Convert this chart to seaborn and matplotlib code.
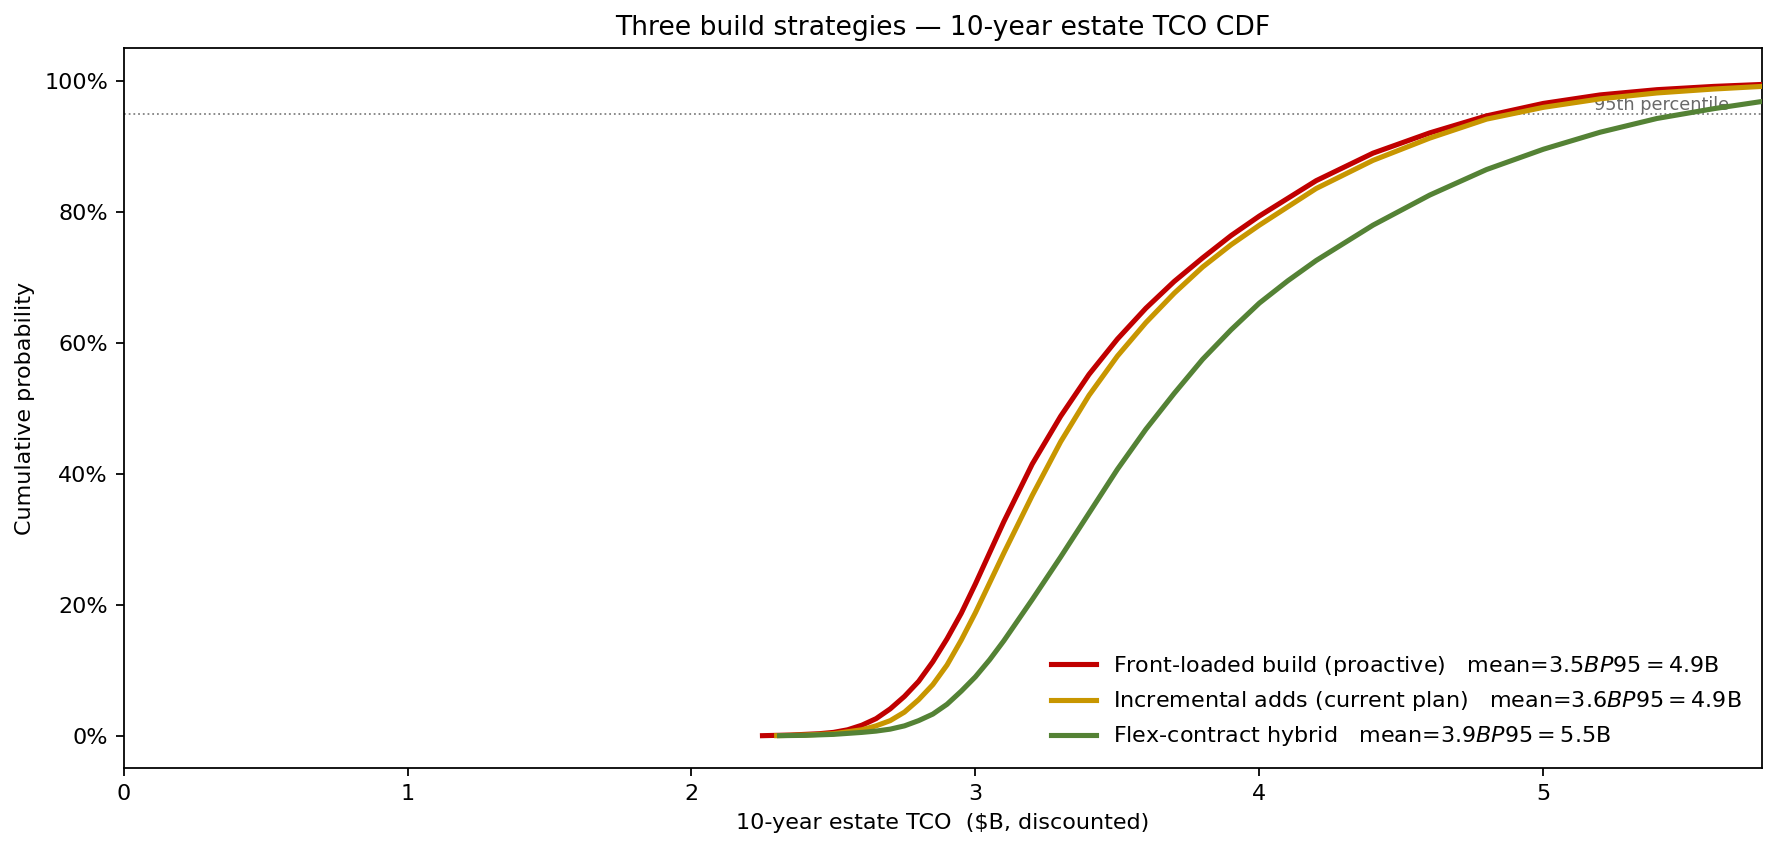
import seaborn as sns
import matplotlib
matplotlib.use("Agg")
import matplotlib.pyplot as plt
from matplotlib.ticker import PercentFormatter
import numpy as np

# CDF points (TCO in $B, cumulative share in %)
front_x = [2.25, 2.35, 2.45, 2.5, 2.55, 2.6, 2.65, 2.7, 2.75, 2.8, 2.85, 2.9, 2.95, 3.0,
           3.1, 3.2, 3.3, 3.4, 3.5, 3.6, 3.7, 3.8, 3.9, 4.0, 4.2, 4.4, 4.6, 4.8, 5.0,
           5.2, 5.4, 5.6, 5.77]
front_p = [0, 0.1, 0.3, 0.5, 0.9, 1.6, 2.6, 4.1, 6.0, 8.3, 11.3, 14.8, 18.7, 23.2,
           32.7, 41.5, 48.8, 55.2, 60.6, 65.3, 69.4, 73.0, 76.4, 79.4, 84.8, 89.0, 92.1,
           94.7, 96.6, 97.9, 98.7, 99.2, 99.5]

incr_x = [2.30, 2.4, 2.5, 2.6, 2.65, 2.7, 2.75, 2.8, 2.85, 2.9, 2.95, 3.0,
          3.1, 3.2, 3.3, 3.4, 3.5, 3.6, 3.7, 3.8, 3.9, 4.0, 4.2, 4.4, 4.6, 4.8, 5.0,
          5.2, 5.4, 5.6, 5.77]
incr_p = [0, 0.1, 0.3, 0.9, 1.5, 2.3, 3.6, 5.5, 7.8, 10.8, 14.6, 18.8,
          27.9, 36.7, 44.9, 52.0, 58.0, 63.1, 67.6, 71.6, 75.0, 78.0, 83.6, 87.9, 91.3,
          94.2, 96.0, 97.3, 98.2, 98.8, 99.2]

flex_x = [2.31, 2.4, 2.5, 2.6, 2.65, 2.7, 2.75, 2.8, 2.85, 2.9, 2.95, 3.0, 3.05, 3.1,
          3.2, 3.3, 3.4, 3.5, 3.6, 3.7, 3.8, 3.9, 4.0, 4.1, 4.2, 4.4, 4.6, 4.8, 5.0,
          5.2, 5.4, 5.6, 5.77]
flex_p = [0, 0.05, 0.2, 0.5, 0.7, 1.0, 1.5, 2.3, 3.3, 4.8, 6.8, 9.0, 11.6, 14.5,
          20.8, 27.3, 34.0, 40.7, 46.8, 52.3, 57.5, 62.0, 66.1, 69.5, 72.6, 78.0, 82.6,
          86.5, 89.6, 92.2, 94.3, 95.8, 96.9]

names = ["Front-loaded build (proactive)", "Incremental adds (current plan)", "Flex-contract hybrid"]
means = [3.5, 3.6, 3.9]
p95s = [4.9, 4.9, 5.5]
colors = ["#C00000", "#C89600", "#548235"]

series = [(front_x, front_p), (incr_x, incr_p), (flex_x, flex_p)]

fig, ax = plt.subplots(figsize=(1778 / 160, 850 / 160), dpi=160)
fig.subplots_adjust(left=0.0695, right=0.991, top=0.943, bottom=0.096)

for (xs, ps), name, m, p95, c in zip(series, names, means, p95s, colors):
    label = f"{name}   mean=${m}B   P95=${p95}B"
    sns.lineplot(x=xs, y=np.array(ps) / 100, ax=ax, color=c, lw=2.3, label=label, zorder=3)

x_max = 5.77
ax.axhline(0.95, ls=":", color="gray", lw=0.8, zorder=1)
ax.text(x_max * 0.98, 0.95, "95th percentile", ha="right", va="bottom",
        fontsize=8, color="dimgray", zorder=1)

ax.set_xlim(0, x_max)
ax.set_ylim(-0.05, 1.05)
ax.yaxis.set_major_formatter(PercentFormatter(1.0, decimals=0))
ax.set_xlabel("10-year estate TCO  ($B, discounted)")
ax.set_ylabel("Cumulative probability")
ax.set_title("Three build strategies — 10-year estate TCO CDF")
ax.legend(loc="lower right", frameon=False)

fig.savefig("out.png", dpi=160)
